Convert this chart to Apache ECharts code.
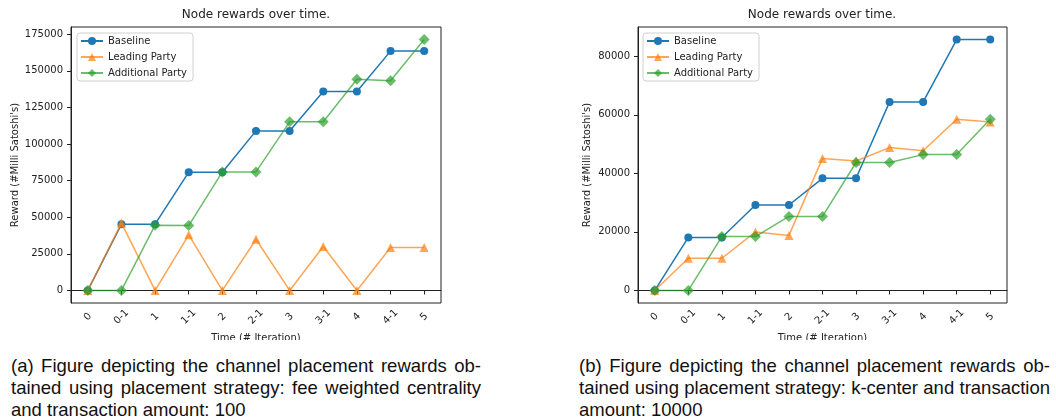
<!DOCTYPE html>
<html>
<head>
<meta charset="utf-8">
<script src="https://cdn.jsdelivr.net/npm/echarts@6/dist/echarts.min.js"></script>
<style>
  html, body { margin: 0; padding: 0; background: #fff; }
  body { width: 1056px; height: 419px; position: relative; overflow: hidden; }
  #chart { position: absolute; left: 0; top: 0; width: 1056px; height: 340px; }
  .cap { position: absolute; font-family: "Liberation Sans", Arial, sans-serif; font-size: 18.5px; line-height: 22px; color: #111; }
  .cap div { white-space: nowrap; }
  .cap .j { text-align: justify; text-align-last: justify; white-space: normal; }
</style>
</head>
<body>
<div id="chart"></div>
<div class="cap" id="capA" style="left:11px; top:355px; width:470px;"></div>
<div class="cap" id="capB" style="left:579px; top:355px; width:471px;"></div>
<script>
// ---- data ----
const categories = ['0', '0-1', '1', '1-1', '2', '2-1', '3', '3-1', '4', '4-1', '5'];
const seriesNames = ['Baseline', 'Leading Party', 'Additional Party'];

// (a) fee weighted centrality, transaction amount 100
const baselineA   = [0, 45300, 45300, 80800, 80800, 109000, 109000, 135900, 135900, 163500, 163500];
const leadingA    = [0, 46000, 0, 38000, 0, 35000, 0, 30000, 0, 29400, 29400];
const additionalA = [0, 0, 44600, 44300, 81000, 81000, 115200, 115200, 144300, 143200, 171400];

// (b) k-center, transaction amount 10000
const baselineB   = [0, 18100, 18100, 29200, 29200, 38300, 38300, 64400, 64400, 85700, 85700];
const leadingB    = [0, 11000, 11000, 20000, 18800, 45100, 44200, 48800, 47700, 58500, 57500];
const additionalB = [0, 0, 18400, 18400, 25300, 25300, 43700, 43700, 46400, 46400, 58500];

const yTicksA = [0, 25000, 50000, 75000, 100000, 125000, 150000, 175000];
const yTicksB = [0, 20000, 40000, 60000, 80000];

const titleText = 'Node rewards over time.';
const xName = 'Time (# Iteration)';
const yName = "Reward (#Milli Satoshi's)";

const captionA = [
  '(a) Figure depicting the channel placement rewards ob-',
  'tained using placement strategy:  fee weighted centrality',
  'and transaction amount: 100'
];
const captionB = [
  '(b) Figure depicting the channel placement rewards ob-',
  'tained using placement strategy: k-center and transaction',
  'amount: 10000'
];

// ---- captions ----
function fillCaption(id, lines) {
  const el = document.getElementById(id);
  lines.forEach((t, i) => {
    const d = document.createElement('div');
    if (i < lines.length - 1) d.className = 'j';
    d.textContent = t;
    el.appendChild(d);
  });
}
fillCaption('capA', captionA);
fillCaption('capB', captionB);

// ---- chart ----
const colors = ['#1f77b4', '#ff7f0e', '#2ca02c'];
const symbols = ['circle', 'triangle', 'diamond'];
const symbolSizes = [8, 9, 11];
const opac = [1, 0.7, 0.7];
const ink = '#222';

function range(arrs) {
  let lo = Infinity, hi = -Infinity;
  arrs.forEach(a => a.forEach(v => { lo = Math.min(lo, v); hi = Math.max(hi, v); }));
  const pad = (hi - lo) * 0.05;
  return [lo - pad, hi + pad];
}
const rA = range([baselineA, leadingA, additionalA]);
const rB = range([baselineB, leadingB, additionalB]);

const grids = [
  { left: 71, top: 27, width: 370, height: 276 },
  { left: 638, top: 27, width: 369, height: 276 }
];

function xAxisFor(i) {
  return {
    gridIndex: i, type: 'category', data: categories, boundaryGap: true,
    axisLine: { show: true, lineStyle: { color: ink, width: 1 } },
    axisTick: { show: true, alignWithLabel: true, length: 4, lineStyle: { color: ink } },
    axisLabel: { rotate: 45, align: 'center', verticalAlign: 'middle', margin: 14, fontSize: 10, color: ink, interval: 0, fontFamily: 'DejaVu Sans' },
    splitLine: { show: false },
    name: xName, nameLocation: 'middle', nameGap: 30,
    nameTextStyle: { fontSize: 10, color: ink, fontFamily: 'DejaVu Sans' }
  };
}
function yAxisFor(i, r, ticks, gap) {
  return {
    gridIndex: i, type: 'value', min: r[0], max: r[1],
    axisLine: { show: true, lineStyle: { color: ink, width: 1 } },
    axisTick: { show: true, length: 4, customValues: ticks, lineStyle: { color: ink } },
    axisLabel: { customValues: ticks, margin: 8, fontSize: 10, color: ink, fontFamily: 'DejaVu Sans',
                 formatter: v => String(Math.round(v)) },
    splitLine: { show: false },
    name: yName, nameLocation: 'middle', nameGap: gap,
    nameTextStyle: { fontSize: 10, color: ink, fontFamily: 'DejaVu Sans' }
  };
}
function seriesFor(i, arrs) {
  return arrs.map((d, k) => ({
    name: seriesNames[k], type: 'line', xAxisIndex: i, yAxisIndex: i, data: d,
    symbol: symbols[k], symbolSize: symbolSizes[k], showAllSymbol: true,
    lineStyle: { color: colors[k], width: 1.5, opacity: opac[k] },
    itemStyle: { color: colors[k], opacity: opac[k] },
    emphasis: { disabled: true },
    animation: false, z: 2 + k
  }));
}
function legendFor(left) {
  return {
    data: seriesNames, orient: 'vertical', left: left, top: 33,
    itemWidth: 22, itemHeight: 10, itemGap: 6,
    padding: [3, 6, 3, 3],
    borderColor: '#d0d0d0', borderWidth: 1, borderRadius: 3,
    backgroundColor: 'rgba(255,255,255,0.8)',
    textStyle: { fontSize: 10, color: ink, fontFamily: 'DejaVu Sans' },
    selectedMode: false
  };
}

const chart = echarts.init(document.getElementById('chart'), null, { renderer: 'canvas' });
chart.setOption({
  animation: false,
  textStyle: { fontFamily: 'DejaVu Sans' },
  color: colors,
  title: [
    { text: titleText, left: 256, top: 9, textAlign: 'center', padding: 0,
      textStyle: { fontSize: 12, fontWeight: 'normal', color: ink, fontFamily: 'DejaVu Sans' } },
    { text: titleText, left: 822, top: 9, textAlign: 'center', padding: 0,
      textStyle: { fontSize: 12, fontWeight: 'normal', color: ink, fontFamily: 'DejaVu Sans' } }
  ],
  legend: [legendFor(77), legendFor(643)],
  grid: grids.map(g => Object.assign({ show: true, borderColor: ink, borderWidth: 1, backgroundColor: 'transparent',
                                        containLabel: false, outerBoundsMode: 'none' }, g)),
  xAxis: [xAxisFor(0), xAxisFor(1)],
  yAxis: [yAxisFor(0, rA, yTicksA, 51), yAxisFor(1, rB, yTicksB, 46)],
  series: seriesFor(0, [baselineA, leadingA, additionalA]).concat(seriesFor(1, [baselineB, leadingB, additionalB]))
});
</script>
</body>
</html>
